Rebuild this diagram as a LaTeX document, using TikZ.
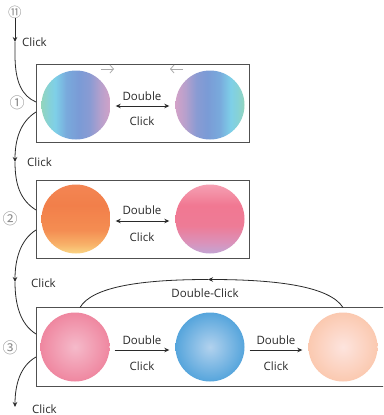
\documentclass[tikz,border=0pt]{standalone}
\usepackage{fontspec}
\setmainfont{Open Sans}
\newfontfamily\symfont{Noto Sans CJK SC}
\usetikzlibrary{arrows.meta,calc}
\definecolor{ink}{HTML}{2A2A2A}
\definecolor{boxline}{HTML}{505050}
\definecolor{numgray}{HTML}{8A8A8A}
\definecolor{lightarr}{HTML}{AAAAAA}
\definecolor{qmint}{HTML}{93D5BD}
\definecolor{qmc}{HTML}{86D2D6}
\definecolor{qcyan}{HTML}{7ECFE8}
\definecolor{qcb}{HTML}{79AADC}
\definecolor{qblue}{HTML}{7A9BD6}
\definecolor{qbp}{HTML}{8A9BD3}
\definecolor{qlil}{HTML}{B7A0CC}
\definecolor{qpink}{HTML}{D2A2C8}
\definecolor{oy}{HTML}{FAD585}
\definecolor{oyo}{HTML}{F8B068}
\definecolor{oo1}{HTML}{F48D52}
\definecolor{oo2}{HTML}{F27F4A}
\definecolor{oo3}{HTML}{F38553}
\definecolor{pp1}{HTML}{C3A5D4}
\definecolor{pp2}{HTML}{DA92BA}
\definecolor{pp3}{HTML}{EE7B96}
\definecolor{pp4}{HTML}{F17892}
\definecolor{pp5}{HTML}{F5A0B3}
\definecolor{rpin}{HTML}{F5BACA}
\definecolor{rpout}{HTML}{EF87A0}
\definecolor{rbin}{HTML}{B2D2EE}
\definecolor{rbout}{HTML}{56A5DC}
\definecolor{rcin}{HTML}{FDE4DE}
\definecolor{rcout}{HTML}{FBC9B0}
\pgfdeclarehorizontalshading{coolA}{100bp}{color(0bp)=(qmint); color(25bp)=(qmint); color(30bp)=(qmc); color(35bp)=(qcyan); color(43bp)=(qcb); color(52bp)=(qblue); color(60bp)=(qbp); color(68bp)=(qlil); color(75bp)=(qpink); color(100bp)=(qpink)}
\pgfdeclarehorizontalshading{coolB}{100bp}{color(0bp)=(qpink); color(25bp)=(qpink); color(32bp)=(qlil); color(40bp)=(qbp); color(48bp)=(qblue); color(57bp)=(qcb); color(65bp)=(qcyan); color(70bp)=(qmc); color(75bp)=(qmint); color(100bp)=(qmint)}
\pgfdeclareverticalshading{warmO}{100bp}{color(0bp)=(oy); color(25bp)=(oy); color(32bp)=(oyo); color(42bp)=(oo1); color(60bp)=(oo2); color(75bp)=(oo3); color(100bp)=(oo3)}
\pgfdeclareverticalshading{warmP}{100bp}{color(0bp)=(pp1); color(25bp)=(pp1); color(33bp)=(pp2); color(45bp)=(pp3); color(60bp)=(pp4); color(75bp)=(pp5); color(100bp)=(pp5)}
\tikzset{
  box/.style={draw=boxline, line width=0.9pt, rectangle, inner sep=0pt},
  ball/.style={circle, minimum size=69pt, inner sep=0pt},
  lbl/.style={text=ink, font=\fontsize{11.5}{13}\selectfont, inner sep=0pt},
  num/.style={text=numgray, font=\symfont\fontsize{15}{15}\selectfont, inner sep=0pt},
  conn/.style={draw=ink, line width=0.8pt},
  tip/.style={-{Stealth[length=5pt,width=4.5pt]}},
  dtip/.style={{Stealth[length=5pt,width=4.5pt]}-{Stealth[length=5pt,width=4.5pt]}},
  faint/.style={draw=lightarr, line width=0.8pt, -{Straight Barb[length=3.5pt,width=8pt]}}
}
\begin{document}
\begin{tikzpicture}[x=1pt,y=-1pt]
\clip (0,0) rectangle (383,415);
\fill[white] (0,0) rectangle (383,415);
% boxes
\node[box, minimum width=213pt, minimum height=78pt] (b1) at (142.5,103) {};
\node[box, minimum width=213pt, minimum height=78pt] (b2) at (142.5,219) {};
\node[box, minimum width=400pt, minimum height=79pt] (b3) at (236,347) {};
% balls
\node[ball, shading=coolA] (c1) at (76,105) {};
\node[ball, shading=coolB] (c2) at (210,105) {};
\node[ball, shading=warmO] (c3) at (76,219) {};
\node[ball, shading=warmP] (c4) at (210,219) {};
\node[ball, shading=radial, inner color=rpin, outer color=rpout] (c5) at (75,347) {};
\node[ball, shading=radial, inner color=rbin, outer color=rbout] (c6) at (210,347) {};
\node[ball, shading=radial, inner color=rcin, outer color=rcout] (c7) at (343,347) {};
% faint arrows in box 1
\coordinate (fa1) at (101,69); \coordinate (fa2) at (114,69);
\coordinate (fb1) at (183,69); \coordinate (fb2) at (170,69);
\draw[faint] (fa1) -- (fa2);
\draw[faint] (fb1) -- (fb2);
% inner double arrows
\draw[conn, dtip, shorten <=5pt, shorten >=6pt] (c1.east |- 0,106) -- (c2.west |- 0,106);
\node[lbl] (t1a) at (142,96) {Double};
\node[lbl] (t1b) at (142,121) {Click};
\draw[conn, dtip, shorten <=5pt, shorten >=6pt] (c3.east |- 0,221) -- (c4.west |- 0,221);
\node[lbl] (t2a) at (142,210) {Double};
\node[lbl] (t2b) at (142,237) {Click};
\draw[conn, tip, shorten <=5pt, shorten >=6pt] (c5.east |- 0,350) -- (c6.west |- 0,350);
\node[lbl] (t3a) at (142,340) {Double};
\node[lbl] (t3b) at (142,366) {Click};
\draw[conn, tip, shorten <=5pt, shorten >=6pt] (c6.east |- 0,350) -- (c7.west |- 0,350);
\node[lbl] (t4a) at (276,340) {Double};
\node[lbl] (t4b) at (276,366) {Click};
% double-click arc
\coordinate (arcL) at (80,307.5);
\coordinate (arcR) at (343,307.5);
\coordinate (arcM) at (208,279.5);
\draw[conn, tip] (arcR) .. controls (330,287) and (280,279.5) .. (arcM);
\draw[conn] (arcM) .. controls (140,279.5) and (92,287) .. (arcL);
\node[lbl] (tdc) at (205,293) {Double-Click};
% numbers
\node[num, font=\symfont\fontsize{13.5}{13.5}\selectfont] (n0) at (15,12) {⑪};
\node[num] (n1) at (17,103) {①};
\node[num] (n2) at (10,219) {②};
\node[num] (n3) at (10,348) {③};
% left connectors
\coordinate (m0) at (15,42);
\coordinate (e1) at (36,102);
\draw[conn, tip] (n0.south) -- (m0);
\draw[conn] (m0) -- (15,55) .. controls (15,82) and (22,96) .. (e1);
\node[lbl, anchor=west] (k0) at (22,42) {Click};
\coordinate (s1) at (36,112);
\coordinate (m1) at (15,162);
\coordinate (e2) at (36,210);
\draw[conn, tip] (s1) .. controls (20,122) and (15,140) .. (m1);
\draw[conn] (m1) .. controls (15,184) and (20,200) .. (e2);
\node[lbl, anchor=west] (k1) at (27,162) {Click};
\coordinate (s2) at (36,230);
\coordinate (m2) at (15,282);
\coordinate (e3) at (36,334);
\draw[conn, tip] (s2) .. controls (20,240) and (15,260) .. (m2);
\draw[conn] (m2) .. controls (15,304) and (20,324) .. (e3);
\node[lbl, anchor=west] (k2) at (31,283) {Click};
\coordinate (s3) at (36,357);
\coordinate (m3) at (15,407);
\draw[conn, tip] (s3) .. controls (20,366) and (15,385) .. (m3);
\node[lbl, anchor=west] (k3) at (32,409) {Click};
\end{tikzpicture}
\end{document}
